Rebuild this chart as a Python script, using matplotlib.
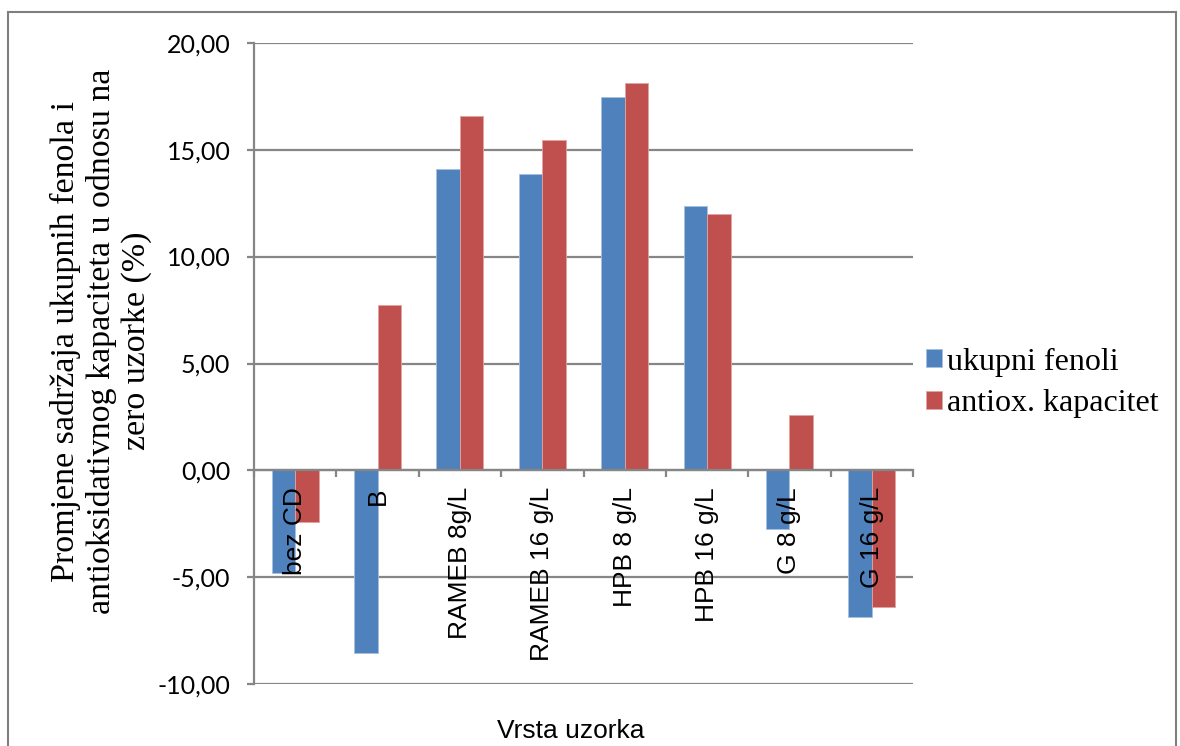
import matplotlib.pyplot as plt
import numpy as np
from matplotlib.ticker import FuncFormatter
from matplotlib.patches import Rectangle

# podaci
uzorci = ['bez CD', 'B', 'RAMEB 8g/L', 'RAMEB 16 g/L', 'HPB 8 g/L', 'HPB 16 g/L', 'G 8 g/L', 'G 16 g/L']
ukupni_fenoli = [-4.79, -8.52, 14.10, 13.85, 17.47, 12.38, -2.72, -6.87]
antiox_kapacitet = [-2.40, 7.75, 16.58, 15.46, 18.11, 11.99, 2.58, -6.40]

plava = '#4F81BD'
crvena = '#C0504D'
siva = '#868686'

fig = plt.figure(figsize=(11.8, 7.46), dpi=100)
ax = fig.add_axes([254 / 1180, 1 - 684.3 / 746, (913 - 254) / 1180, (684.3 - 42.7) / 746])

x = np.arange(len(uzorci))
w = 0.286
ax.bar(x - w / 2, ukupni_fenoli, w, color=plava, edgecolor='#A7BFDE', linewidth=0.6,
       label='ukupni fenoli', zorder=3)
ax.bar(x + w / 2, antiox_kapacitet, w, color=crvena, edgecolor='#E0A3A1', linewidth=0.6,
       label='antiox. kapacitet', zorder=3)

# osi
ax.set_xlim(-0.5, len(uzorci) - 0.5)
ax.set_ylim(-10, 20)
ax.set_yticks(np.arange(-10, 21, 5))
ax.yaxis.set_major_formatter(FuncFormatter(lambda v, p: f'{v:.2f}'.replace('.', ',')))
ax.grid(axis='y', color=siva, linewidth=1.6, zorder=0)
for s in ['top', 'right']:
    ax.spines[s].set_visible(False)
ax.spines['left'].set_color(siva)
ax.spines['left'].set_linewidth(1.6)
ax.spines['bottom'].set_position(('data', 0))
ax.spines['bottom'].set_color(siva)
ax.spines['bottom'].set_linewidth(1.6)
ax.spines['bottom'].set_zorder(4)

ax.set_xticks(np.arange(-0.5, len(uzorci), 1.0))
ax.set_xticklabels([])
ax.tick_params(axis='x', direction='out', length=5, width=1.6, color=siva)
ax.tick_params(axis='y', direction='out', length=5, width=1.6, color=siva, pad=12,
               labelsize=18)
for t in ax.get_yticklabels():
    t.set_fontfamily('Lato')

# oznake kategorija ispod nulte linije
for i, naziv in enumerate(uzorci):
    ax.annotate(naziv, (i, 0), xytext=(0, -12), textcoords='offset points',
                rotation=90, ha='center', va='top', fontsize=19,
                family='Liberation Sans', zorder=5)

fig.text(101 / 1180, 1 - 341 / 746,
         'Promjene sadržaja ukupnih fenola i\nantioksidativnog kapaciteta u odnosu na\nzero uzorke (%)',
         rotation=90, ha='center', va='center', multialignment='center',
         fontsize=24.5, family='Liberation Serif', linespacing=1.18)
fig.text(571 / 1180, 1 - 731 / 746, 'Vrsta uzorka', ha='center', va='center',
         fontsize=19, family='Liberation Sans')

fig.legend(loc='center left', bbox_to_anchor=(926 / 1180, 1 - 383 / 746), frameon=False,
           prop={'family': 'Liberation Serif', 'size': 23}, handlelength=0.5,
           handleheight=0.5, handletextpad=0.15, labelspacing=0.4, borderpad=0,
           borderaxespad=0)

# okvir oko grafikona
fig.patches.append(Rectangle((8 / 1180, -0.05), (1176 - 8) / 1180, 1.05 - 12 / 746,
                             transform=fig.transFigure, fill=False, edgecolor='#7F7F7F',
                             linewidth=1.5))

fig.savefig('out.png', dpi=100)
